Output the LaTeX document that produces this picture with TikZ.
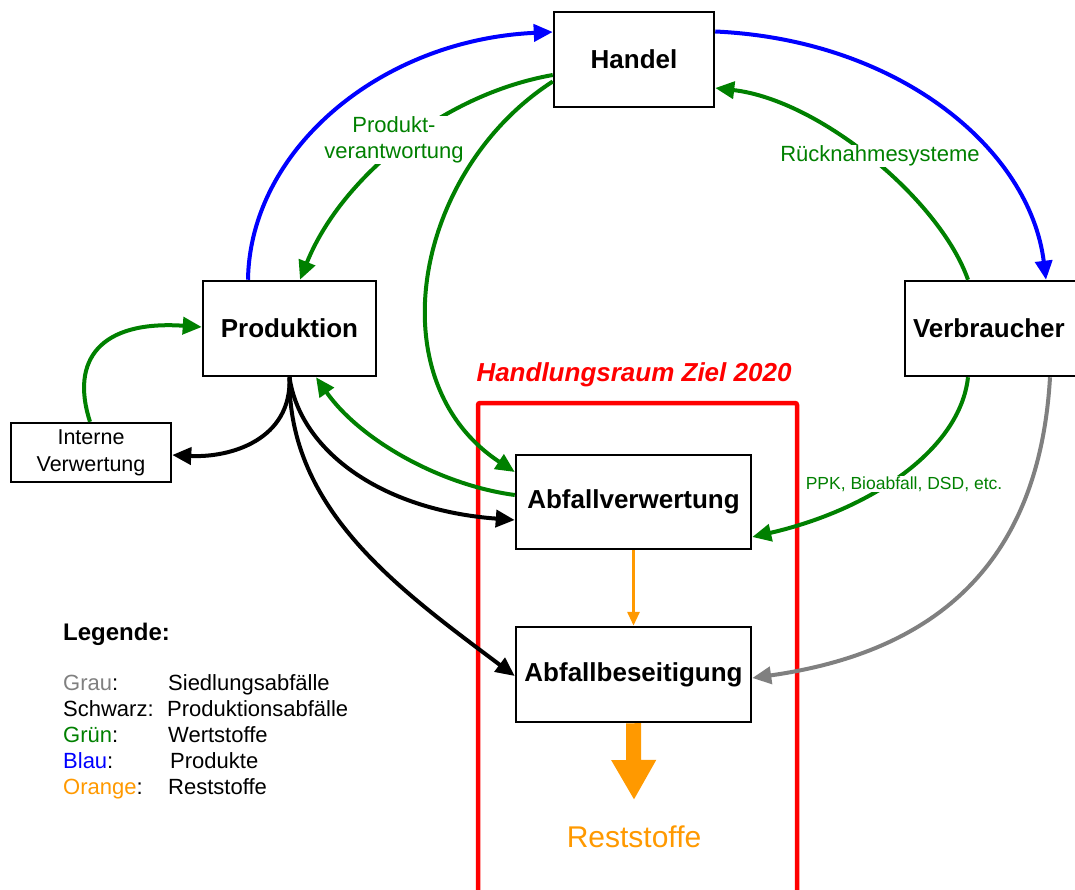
\documentclass[tikz,border=0pt]{standalone}
\usepackage{fontspec}
\setmainfont{Liberation Sans}
\usetikzlibrary{arrows.meta,calc}
\definecolor{cgreen}{RGB}{0,128,0}
\definecolor{cblue}{RGB}{0,0,255}
\definecolor{cgray}{RGB}{128,128,128}
\definecolor{corange}{RGB}{255,153,0}
\definecolor{cred}{RGB}{255,0,0}
\begin{document}
\begin{tikzpicture}[x=1pt,y=-1pt,
  box/.style={draw, line width=2.5pt, fill=white, font=\fontsize{26}{30}\selectfont\bfseries, inner sep=0pt},
  conn/.style={line width=4pt, -{Triangle[length=19pt,width=17pt]}},
  lbl/.style={font=\fontsize{22}{26}\selectfont, align=center, fill=white, inner sep=1pt, text=cgreen},
  legtxt/.style={anchor=base west, font=\fontsize{22}{26}\selectfont, inner sep=0pt}
]
\useasboundingbox (0,0) rectangle (1075,890);
\clip (0,0) rectangle (1075,890);

% red action area
\draw[cred, line width=4.5pt, rounded corners=2pt] (478,403) rectangle (797,920);
\node[text=cred, font=\fontsize{26}{30}\selectfont\bfseries\itshape] (title) at (634,375) {Handlungsraum Ziel 2020};

% boxes
\node[box, minimum width=160pt, minimum height=95pt] (handel) at (634,59.5) {Handel};
\node[box, minimum width=173pt, minimum height=95pt] (prod) at (289.5,328.5) {Produktion};
\node[box, minimum width=180pt, minimum height=95pt, text width=180pt, align=left] (verb) at (995,328.5) {\hspace*{8pt}Verbraucher};
\node[box, minimum width=160pt, minimum height=59pt, align=center, font=\fontsize{21.5}{27}\selectfont] (iv) at (91,452.5) {Interne\\Verwertung};
\node[box, minimum width=235pt, minimum height=94pt] (av) at (633.5,502) {Abfallverwertung};
\node[box, minimum width=235pt, minimum height=95pt] (ab) at (633.5,674.5) {Abfallbeseitigung};

% green: recyclables
\draw[conn, cgreen] ([yshift=-15.5pt]handel.west) .. controls (440,95) and (340,180) .. ([xshift=10.5pt]prod.north);
\draw[conn, cgreen] ([yshift=-22pt]handel.west) .. controls (415,170) and (375,380) .. ([yshift=30pt]av.west);
\draw[conn, cgreen] ([xshift=-27pt]verb.north) .. controls (940,200) and (820,100) .. ([yshift=-28.5pt]handel.east);
\draw[conn, cgreen] ([xshift=-27pt]verb.south) .. controls (960,450) and (870,510) .. ([yshift=-35pt]av.east);
\draw[conn, cgreen] ([yshift=7pt]av.west) .. controls (440,485) and (360,440) .. ([xshift=26.5pt]prod.south);
\draw[conn, cgreen] ([xshift=-1pt]iv.north) .. controls (70,360) and (100,320) .. ([yshift=1.5pt]prod.west);

% labels on curves
\node[lbl] (lprod) at (394,140) {Produkt-\\verantwortung};
\node[lbl] (lrueck) at (880,156) {Rücknahmesysteme};
\node[lbl, font=\fontsize{17.5}{20}\selectfont] (lppk) at (904,484) {PPK, Bioabfall, DSD, etc.};

% blue: products
\draw[conn, cblue] ([xshift=-41.5pt]prod.north) .. controls (250,150) and (380,40) .. ([yshift=27.5pt]handel.west);
\draw[conn, cblue] ([yshift=28pt]handel.east) .. controls (900,40) and (1030,150) .. ([xshift=51pt]verb.north);

% gray: municipal waste
\draw[conn, cgray] ([xshift=55pt]verb.south) .. controls (1040,550) and (950,650) .. ([yshift=-3.5pt]ab.east);

% black: production waste
\draw[conn, black] (prod.south) .. controls (292,440) and (230,458) .. ([yshift=-2.5pt]iv.east);
\draw[conn, black] (prod.south) .. controls (300,450) and (380,510) .. ([yshift=-18pt]av.west);
\draw[conn, black] (prod.south) .. controls (288,510) and (400,590) .. ([yshift=-1.5pt]ab.west);

% orange: residues
\draw[corange, line width=3pt, -{Triangle[length=14pt,width=12pt]}] (av.south) -- (ab.north);
\coordinate (rtip) at (634,800);
\draw[corange, line width=15pt, -{Triangle[length=40pt,width=42pt]}] (ab.south) -- (rtip);
\node[text=corange, font=\fontsize{30}{34}\selectfont] (rest) at (634,837) {Reststoffe};

% legend
\node[anchor=west, inner sep=0pt, font=\fontsize{24}{28}\selectfont\bfseries] (leg) at (63,634) {Legende:};
\node[legtxt, text=cgray] (g1) at (63,690) {Grau\textcolor{black}{:}};
\node[legtxt] (g2) at (63,716) {Schwarz:};
\node[legtxt, text=cgreen] (g3) at (63,742) {Grün\textcolor{black}{:}};
\node[legtxt, text=cblue] (g4) at (63,768) {Blau\textcolor{black}{:}};
\node[legtxt, text=corange] (g5) at (63,794) {Orange\textcolor{black}{:}};
\node[legtxt] (d1) at (168,690) {Siedlungsabfälle};
\node[legtxt] (d2) at (167,716) {Produktionsabfälle};
\node[legtxt] (d3) at (168,742) {Wertstoffe};
\node[legtxt] (d4) at (170,768) {Produkte};
\node[legtxt] (d5) at (168,794) {Reststoffe};
\end{tikzpicture}
\end{document}
